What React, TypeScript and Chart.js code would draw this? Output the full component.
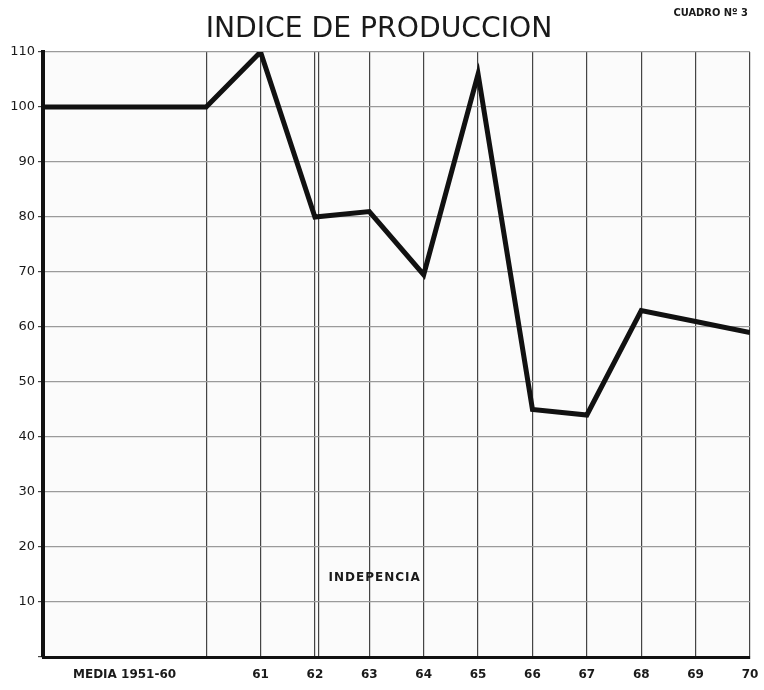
import React, { useEffect, useRef } from "react";
import { Chart, registerables } from "chart.js";

Chart.register(...registerables);

// Data
const xValues = [57, 60, 61, 62, 63, 64, 65, 66, 67, 68, 69, 70];
const indexValues = [100, 100, 110, 80, 81, 69.5, 106, 45, 44, 63, 61, 59];

const xTickValues = [57, 58.5, 60, 61, 62, 62.06, 63, 64, 65, 66, 67, 68, 69, 70];
const xTickLabels = ["", "MEDIA 1951-60", "", "61", "62", "", "63", "64", "65", "66", "67", "68", "69", "70"];
const yTickValues = [0, 10, 20, 30, 40, 50, 60, 70, 80, 90, 100, 110];

const titleText = "INDICE DE PRODUCCION";
const cornerText = "CUADRO Nº 3";
const noteText = "INDEPENCIA";
const notePosition = { x: 63.1, y: 14.4 };

const textPlugin = {
  id: "texts",
  beforeDraw(chart: any) {
    const { ctx, chartArea } = chart;
    ctx.save();
    ctx.fillStyle = "#fbfbfb";
    ctx.fillRect(chartArea.left, chartArea.top, chartArea.right - chartArea.left, chartArea.bottom - chartArea.top);
    ctx.restore();
  },
  afterDraw(chart: any) {
    const { ctx } = chart;
    const xs = chart.scales.x;
    const ys = chart.scales.y;
    ctx.save();
    ctx.fillStyle = "#1a1a1a";
    ctx.textAlign = "center";
    ctx.textBaseline = "alphabetic";
    ctx.font = '28px "Liberation Sans Narrow", "DejaVu Sans Condensed", sans-serif';
    ctx.save();
    ctx.translate(379, 37);
    ctx.scale(1.12, 1);
    ctx.fillText(titleText, 0, 0);
    ctx.restore();
    ctx.textAlign = "right";
    ctx.font = 'bold 11px "DejaVu Sans Condensed", "DejaVu Sans", sans-serif';
    ctx.fillText(cornerText, 748, 16);
    ctx.textAlign = "center";
    ctx.textBaseline = "middle";
    ctx.font = 'bold 12px "DejaVu Sans", sans-serif';
    (ctx as any).letterSpacing = "1px";
    ctx.fillText(noteText, xs.getPixelForValue(notePosition.x), ys.getPixelForValue(notePosition.y));
    ctx.restore();
  },
};

export default function App() {
  const ref = useRef<HTMLCanvasElement>(null);
  useEffect(() => {
    document.body.style.margin = "0";
    const chart = new Chart(ref.current!, {
      type: "line",
      data: {
        datasets: [
          {
            data: xValues.map((x, i) => ({ x, y: indexValues[i] })),
            borderColor: "#111",
            borderWidth: 5,
            pointRadius: 0,
            tension: 0,
            borderJoinStyle: "miter",
            fill: false,
          },
        ],
      },
      options: {
        animation: false,
        responsive: false,
        maintainAspectRatio: false,
        layout: { padding: { top: 52, right: 14, left: 0, bottom: 0 } },
        plugins: { legend: { display: false }, tooltip: { enabled: false }, title: { display: false } },
        scales: {
          x: {
            type: "linear",
            min: 57,
            max: 70,
            afterBuildTicks: (scale: any) => {
              scale.ticks = xTickValues.map((v) => ({ value: v }));
            },
            afterFit: (scale: any) => {
              scale.height = 33;
              scale.paddingRight = 0;
              scale.paddingLeft = 0;
            },
            ticks: {
              autoSkip: false,
              maxRotation: 0,
              padding: 11,
              color: "#1a1a1a",
              font: { family: '"DejaVu Sans", sans-serif', size: 12, weight: "bold" },
              callback: (v: any) => {
                const i = xTickValues.indexOf(Number(v));
                return i >= 0 ? xTickLabels[i] : "";
              },
            },
            grid: {
              drawTicks: false,
              lineWidth: 1.2,
              color: (c: any) => (c.tick && c.tick.value === 58.5 ? "rgba(0,0,0,0)" : "#444"),
            },
            border: { color: "#111", width: 3 },
          },
          y: {
            min: 0,
            max: 110,
            afterBuildTicks: (scale: any) => {
              scale.ticks = yTickValues.map((v) => ({ value: v }));
            },
            afterFit: (scale: any) => {
              scale.width = 43;
              scale.paddingTop = 0;
              scale.paddingBottom = 0;
            },
            ticks: {
              padding: 3,
              color: "#1a1a1a",
              font: { family: '"DejaVu Sans", sans-serif', size: 13 },
              callback: (v: any) => (Number(v) === 0 ? "" : String(v)),
            },
            grid: { color: "#9a9a9a", lineWidth: 1.2, tickLength: 5, tickColor: "#444" },
            border: { color: "#111", width: 4 },
          },
        },
      },
      plugins: [textPlugin],
    } as any);
    return () => chart.destroy();
  }, []);
  return <canvas ref={ref} width={764} height={690} style={{ display: "block" }} />;
}
